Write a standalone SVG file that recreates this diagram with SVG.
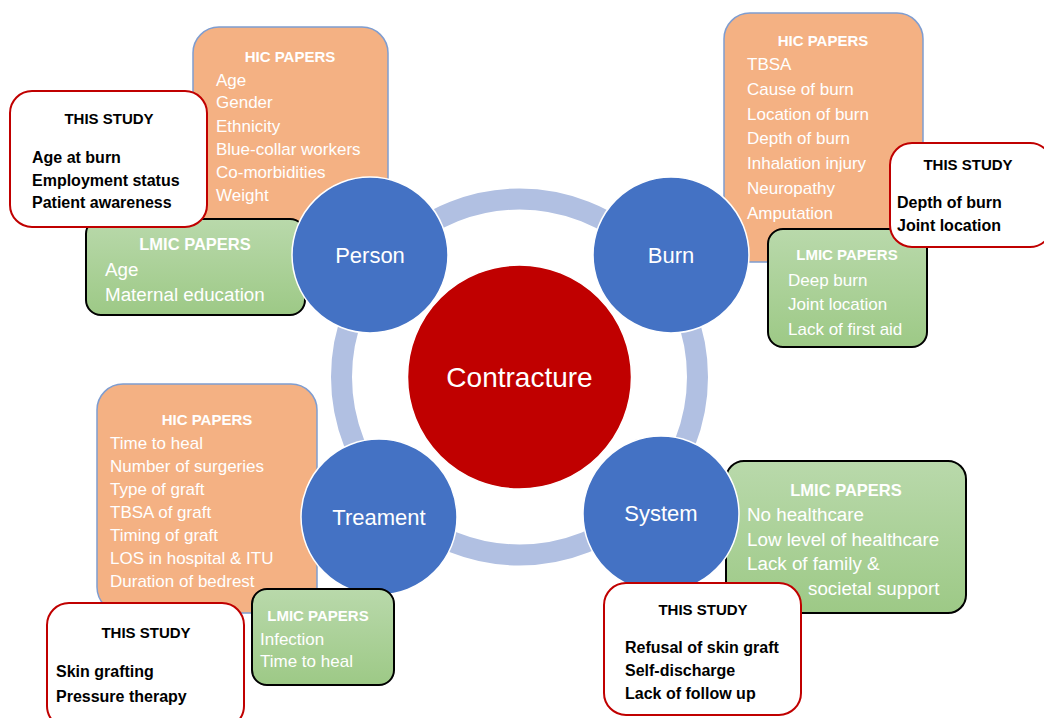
<svg xmlns="http://www.w3.org/2000/svg" width="1044" height="718" viewBox="0 0 1044 718">
<defs>
<linearGradient id="green" x1="0" y1="0" x2="0" y2="1">
<stop offset="0" stop-color="#B9D9AB"/>
<stop offset="1" stop-color="#9DC986"/>
</linearGradient>
<style>
text{font-family:"Liberation Sans",Arial,sans-serif}
.hic{fill:#F4B183;stroke:#7F9DD0;stroke-width:1.5}
.lmic{fill:url(#green);stroke:#000;stroke-width:2}
.study{fill:#fff;stroke:#C00000;stroke-width:2}
.factor{fill:#4472C4;stroke:#fff;stroke-width:1.5}
.ttl{font-weight:bold;font-size:15px;fill:#fff;text-anchor:middle}
.ttlL{font-weight:bold;font-size:16.5px;fill:#fff;text-anchor:middle}
.w{font-size:17px;fill:#fff}
.wL{font-size:18.8px;fill:#fff}
.stt{font-weight:bold;font-size:15px;fill:#000;text-anchor:middle}
.b{font-weight:bold;font-size:16px;fill:#000}
.cl{font-size:22px;fill:#fff;text-anchor:middle}
</style>
</defs>
<rect width="1044" height="718" fill="#fff"/>

<g id="connectors">
<circle cx="519.5" cy="377" r="178" fill="none" stroke="#B1C0E2" stroke-width="21"/>
</g>

<g id="contracture">
<circle cx="519.5" cy="377" r="112" fill="#C00000" stroke="#fff" stroke-width="1.5"/>
<text x="519.5" y="387" font-size="28" fill="#fff" text-anchor="middle">Contracture</text>
</g>

<g id="person-hic">
<rect class="hic" x="193" y="27" width="195" height="198" rx="26"/>
<text class="ttl" x="290" y="62">HIC PAPERS</text>
<text class="w" x="216" y="86">Age</text>
<text class="w" x="216" y="108">Gender</text>
<text class="w" x="216" y="132">Ethnicity</text>
<text class="w" x="216" y="155">Blue-collar workers</text>
<text class="w" x="216" y="178">Co-morbidities</text>
<text class="w" x="216" y="201">Weight</text>
</g>

<g id="burn-hic">
<rect class="hic" x="724" y="13" width="199" height="249" rx="26"/>
<text class="ttl" x="823" y="46">HIC PAPERS</text>
<text class="w" x="747" y="70">TBSA</text>
<text class="w" x="747" y="95">Cause of burn</text>
<text class="w" x="747" y="120">Location of burn</text>
<text class="w" x="747" y="144">Depth of burn</text>
<text class="w" x="747" y="169">Inhalation injury</text>
<text class="w" x="747" y="194">Neuropathy</text>
<text class="w" x="747" y="219">Amputation</text>
</g>

<g id="treatment-hic">
<rect class="hic" x="97" y="384" width="220" height="229" rx="26"/>
<text class="ttl" x="207" y="425">HIC PAPERS</text>
<text class="w" x="110" y="449">Time to heal</text>
<text class="w" x="110" y="472">Number of surgeries</text>
<text class="w" x="110" y="495">Type of graft</text>
<text class="w" x="110" y="518">TBSA of graft</text>
<text class="w" x="110" y="541">Timing of graft</text>
<text class="w" x="110" y="564">LOS in hospital &amp; ITU</text>
<text class="w" x="110" y="587">Duration of bedrest</text>
</g>

<g id="person-lmic">
<rect class="lmic" x="86" y="219" width="219" height="96" rx="15"/>
<text class="ttlL" x="195" y="250">LMIC PAPERS</text>
<text class="wL" x="105" y="276">Age</text>
<text class="wL" x="105" y="301">Maternal education</text>
</g>

<g id="burn-lmic">
<rect class="lmic" x="768" y="229" width="159" height="118" rx="15"/>
<text class="ttl" x="847" y="260">LMIC PAPERS</text>
<text class="w" x="788" y="286">Deep burn</text>
<text class="w" x="788" y="310">Joint location</text>
<text class="w" x="788" y="335">Lack of first aid</text>
</g>

<g id="system-lmic">
<rect class="lmic" x="726" y="461" width="240" height="152" rx="18"/>
<text class="ttlL" x="846" y="496">LMIC PAPERS</text>
<text class="wL" x="747" y="521">No healthcare</text>
<text class="wL" x="747" y="546">Low level of healthcare</text>
<text class="wL" x="747" y="570">Lack of family &amp;</text>
<text class="wL" x="808" y="595">societal support</text>
</g>

<g id="person">
<circle class="factor" cx="370" cy="255" r="78"/>
<text class="cl" x="370" y="263">Person</text>
</g>

<g id="burn">
<circle class="factor" cx="671" cy="255" r="78"/>
<text class="cl" x="671" y="263">Burn</text>
</g>

<g id="treatment">
<circle class="factor" cx="379" cy="517" r="78"/>
<text class="cl" x="379" y="525">Treament</text>
</g>

<g id="system">
<circle class="factor" cx="661" cy="514" r="78"/>
<text class="cl" x="661" y="521">System</text>
</g>

<g id="treatment-lmic">
<rect class="lmic" x="252" y="589" width="142" height="96" rx="15"/>
<text class="ttl" x="318" y="621">LMIC PAPERS</text>
<text class="w" x="260" y="645">Infection</text>
<text class="w" x="260" y="667">Time to heal</text>
</g>

<g id="person-study">
<rect class="study" x="10" y="91" width="197" height="136" rx="22"/>
<text class="stt" x="109" y="124">THIS STUDY</text>
<text class="b" x="32" y="163">Age at burn</text>
<text class="b" x="32" y="186">Employment status</text>
<text class="b" x="32" y="208">Patient awareness</text>
</g>

<g id="burn-study">
<rect class="study" x="890" y="143" width="162" height="104" rx="22"/>
<text class="stt" x="968" y="170">THIS STUDY</text>
<text class="b" x="897" y="208">Depth of burn</text>
<text class="b" x="897" y="231">Joint location</text>
</g>

<g id="treatment-study">
<rect class="study" x="47" y="603" width="197" height="125" rx="22"/>
<text class="stt" x="146" y="638">THIS STUDY</text>
<text class="b" x="56" y="677" font-size="17">Skin grafting</text>
<text class="b" x="56" y="702" font-size="17">Pressure therapy</text>
</g>

<g id="system-study">
<rect class="study" x="604" y="583" width="197" height="132" rx="22"/>
<text class="stt" x="703" y="615">THIS STUDY</text>
<text class="b" x="625" y="653">Refusal of skin graft</text>
<text class="b" x="625" y="676">Self-discharge</text>
<text class="b" x="625" y="699">Lack of follow up</text>
</g>
</svg>
